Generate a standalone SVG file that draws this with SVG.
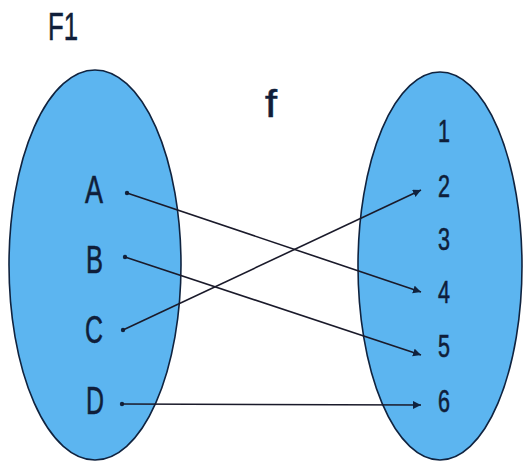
<svg xmlns="http://www.w3.org/2000/svg" width="525" height="463" viewBox="0 0 525 463">
<style>
.set{fill:#5cb5f0;stroke:#10233f;stroke-width:1.6}
.lbl{font-family:"Liberation Sans",Arial,sans-serif;fill:#0f1e3a;stroke:#0f1e3a;stroke-width:0.6}
.big{font-size:39px}
.num{font-size:31px}
.edge{stroke:#1a1a2a;stroke-width:1.6;fill:none;marker-end:url(#ah)}
.dot{fill:#10233f}
</style>
<defs>
<marker id="ah" markerWidth="10" markerHeight="10" refX="8" refY="4" orient="auto" markerUnits="userSpaceOnUse">
<path d="M0,0 L8,4 L0,8 Z" fill="#10233f"/>
</marker>
</defs>
<rect width="525" height="463" fill="#ffffff"/>
<g id="F1-set"><ellipse class="set" cx="95" cy="265" rx="86" ry="195"/></g>
<g id="F2-set"><ellipse class="set" cx="440" cy="266" rx="82" ry="194"/></g>
<g id="title"><text class="lbl big" x="48" y="40" textLength="30" lengthAdjust="spacingAndGlyphs">F1</text></g>
<g id="f-label"><text class="lbl big" x="265" y="117" textLength="12" lengthAdjust="spacingAndGlyphs">f</text></g>
<g id="A"><text class="lbl big" x="85" y="203" textLength="18" lengthAdjust="spacingAndGlyphs">A</text></g>
<g id="B"><text class="lbl big" x="86" y="273" textLength="17" lengthAdjust="spacingAndGlyphs">B</text></g>
<g id="C"><text class="lbl big" x="85" y="343" textLength="18" lengthAdjust="spacingAndGlyphs">C</text></g>
<g id="D"><text class="lbl big" x="86" y="414" textLength="18" lengthAdjust="spacingAndGlyphs">D</text></g>
<g id="n1"><text class="lbl num" x="438" y="142" textLength="12" lengthAdjust="spacingAndGlyphs">1</text></g>
<g id="n2"><text class="lbl num" x="438" y="197" textLength="12" lengthAdjust="spacingAndGlyphs">2</text></g>
<g id="n3"><text class="lbl num" x="438" y="250" textLength="12" lengthAdjust="spacingAndGlyphs">3</text></g>
<g id="n4"><text class="lbl num" x="438" y="303" textLength="12" lengthAdjust="spacingAndGlyphs">4</text></g>
<g id="n5"><text class="lbl num" x="438" y="357" textLength="12" lengthAdjust="spacingAndGlyphs">5</text></g>
<g id="n6"><text class="lbl num" x="438" y="412" textLength="12" lengthAdjust="spacingAndGlyphs">6</text></g>
<g id="connectors">
<circle class="dot" cx="127" cy="193" r="2.2"/>
<circle class="dot" cx="125" cy="257" r="2.2"/>
<circle class="dot" cx="123" cy="330" r="2.2"/>
<circle class="dot" cx="122" cy="404" r="2.2"/>
<line class="edge" x1="127" y1="193" x2="421" y2="292"/>
<line class="edge" x1="125" y1="257" x2="421" y2="355"/>
<line class="edge" x1="123" y1="330" x2="421" y2="190"/>
<line class="edge" x1="122" y1="404" x2="421" y2="405"/>
</g>
</svg>
